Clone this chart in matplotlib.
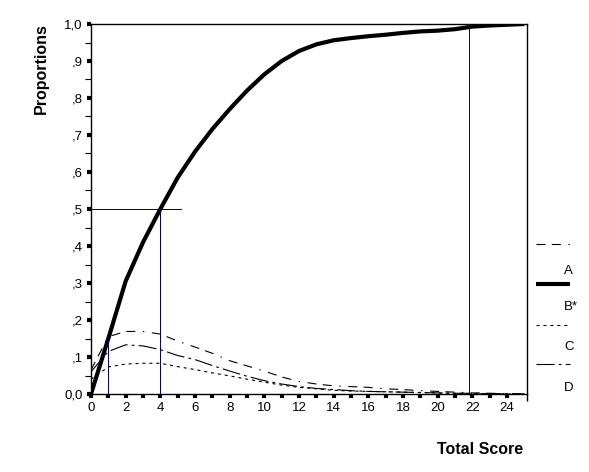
import matplotlib
matplotlib.use('Agg')
import matplotlib.pyplot as plt
from matplotlib.lines import Line2D

plt.rcParams['font.family'] = ['Liberation Sans', 'DejaVu Sans']
plt.rcParams['lines.scale_dashes'] = False

# ---- data ----
scores = list(range(0, 26))
option_b = [0.0, 0.15, 0.305, 0.41, 0.50, 0.585, 0.655, 0.716, 0.77, 0.82, 0.864,
            0.90, 0.927, 0.945, 0.956, 0.962, 0.967, 0.971, 0.976, 0.98, 0.982,
            0.986, 0.993, 0.996, 0.998, 1.0]
option_a = [0.065, 0.155, 0.169, 0.169, 0.162, 0.143, 0.127, 0.11, 0.09, 0.076, 0.062,
            0.046, 0.034, 0.027, 0.022, 0.02, 0.018, 0.014, 0.012, 0.009, 0.007,
            0.005, 0.003, 0.002, 0.001, 0.0]
option_d = [0.06, 0.115, 0.133, 0.13, 0.12, 0.104, 0.093, 0.077, 0.062, 0.048, 0.036,
            0.027, 0.02, 0.015, 0.012, 0.009, 0.007, 0.006, 0.005, 0.004, 0.003,
            0.002, 0.002, 0.001, 0.001, 0.0]
option_c = [0.04, 0.073, 0.081, 0.083, 0.083, 0.074, 0.066, 0.057, 0.049, 0.04, 0.032,
            0.024, 0.018, 0.014, 0.01, 0.008, 0.007, 0.006, 0.005, 0.004, 0.003,
            0.002, 0.001, 0.001, 0.0, 0.0]
legend_labels = ['A', 'B*', 'C', 'D']
y_ticks = [0.0, 0.1, 0.2, 0.3, 0.4, 0.5, 0.6, 0.7, 0.8, 0.9, 1.0]
y_ticklabels = ['0,0', ',1', ',2', ',3', ',4', ',5', ',6', ',7', ',8', ',9', '1,0']
x_ticks = list(range(0, 25))
x_ticklabels = [str(v) if v % 2 == 0 else '' for v in x_ticks]
ref_low_x, ref_low_y = 1.0, 0.15
ref_mid_x, ref_mid_y = 4.0, 0.5
ref_mid_hline_end = 5.2
ref_high_x = 21.82

W, H = 589, 472
fig = plt.figure(figsize=(W / 100, H / 100), dpi=100)
ax = fig.add_axes([91 / W, 1 - 394 / H, (527 - 91) / W, (394 - 24) / H])

navy = '#000080'
lw_thin = 0.8
dash_a = (6.5, 4.5, 6.5, 5.5, 1, 5.5)
dash_d = (13, 3, 2, 3)
dash_c = (2.2, 2.8)

ax.plot(scores, option_a, color='black', lw=lw_thin, dashes=dash_a)
ax.plot(scores, option_d, color='black', lw=lw_thin, dashes=dash_d)
ax.plot(scores, option_c, color='black', lw=lw_thin, dashes=dash_c)
ax.plot(scores, option_b, color='black', lw=3.0, solid_capstyle='butt')

# reference lines
ref_kw = dict(color=navy, lw=0.72, antialiased=False)
ax.plot([ref_low_x, ref_low_x], [0, ref_low_y], **ref_kw)
ax.plot([ref_mid_x, ref_mid_x], [0, ref_mid_y], **ref_kw)
ax.plot([0, ref_mid_hline_end], [ref_mid_y, ref_mid_y], **ref_kw)
ax.plot([ref_high_x, ref_high_x], [0, 1.0], **ref_kw)

ax.set_xlim(0, 25.15)
ax.set_ylim(0, 1.0)
for s in ax.spines.values():
    s.set_linewidth(1.0)
    s.set_color('black')

ax.set_yticks(y_ticks)
ax.set_yticklabels(y_ticklabels)
ax.set_yticks([0.05 + 0.1 * i for i in range(10)], minor=True)
ax.set_xticks(x_ticks)
ax.set_xticklabels(x_ticklabels)
ax.set_xticks([25.15], minor=True)
ax.tick_params(axis='both', which='major', direction='out', length=3, width=3,
               labelsize=9.5, pad=3)
ax.tick_params(axis='y', which='minor', direction='out', length=4, width=0.8)
ax.tick_params(axis='x', which='minor', direction='out', length=5, width=1.0)

fig.text(41 / W, 1 - 69 / H, 'Proportions', rotation=90, ha='center', va='center',
         fontsize=11.5, fontweight='bold')
fig.text(480 / W, 1 - 450 / H, 'Total Score', ha='center', va='center',
         fontsize=11.5, fontweight='bold')

# legend (manual, as in the reference)
lx0, lx1 = 536 / W, 570 / W
fig.add_artist(Line2D([lx0, lx1], [1 - 244 / H] * 2, color='black', lw=lw_thin, dashes=dash_a))
fig.add_artist(Line2D([lx0, lx1], [1 - 283.5 / H] * 2, color='black', lw=3.0, solid_capstyle='butt'))
fig.add_artist(Line2D([lx0, lx1], [1 - 325 / H] * 2, color='black', lw=lw_thin, dashes=dash_c))
fig.add_artist(Line2D([lx0, lx1], [1 - 363.5 / H] * 2, color='black', lw=lw_thin, dashes=dash_d))
for lab, yy in zip(legend_labels, [271, 306.5, 347, 388]):
    fig.text(564 / W, 1 - yy / H, lab, ha='left', va='center', fontsize=9.5)

fig.savefig('out.png', dpi=100)
